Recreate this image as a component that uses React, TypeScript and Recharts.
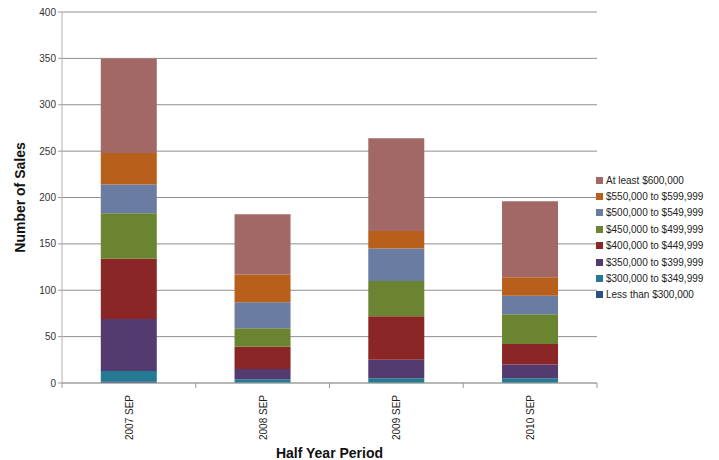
import { BarChart, Bar, XAxis, YAxis, CartesianGrid } from "recharts";

const periods = ["2007 SEP", "2008 SEP", "2009 SEP", "2010 SEP"];

// price bands, bottom of the stack first
const bands = [
  "Less than $300,000",
  "$300,000 to $349,999",
  "$350,000 to $399,999",
  "$400,000 to $449,999",
  "$450,000 to $499,999",
  "$500,000 to $549,999",
  "$550,000 to $599,999",
  "At least $600,000",
];

const lessThan300 = [2, 0, 0, 0];
const from300 = [11, 4, 5, 5];
const from350 = [56, 11, 20, 15];
const from400 = [65, 24, 47, 22];
const from450 = [49, 20, 38, 32];
const from500 = [31, 28, 35, 20];
const from550 = [34, 30, 19, 20];
const atLeast600 = [102, 65, 100, 82];

const bandValues = [lessThan300, from300, from350, from400, from450, from500, from550, atLeast600];

const colors = ["#2b5184", "#247a92", "#533b70", "#8a2626", "#6a8431", "#6a7ca1", "#b75f1b", "#a26865"];

const yTicks = [0, 50, 100, 150, 200, 250, 300, 350, 400];

const data = periods.map((p, i) => {
  const row: Record<string, string | number> = { period: p };
  bands.forEach((b, j) => {
    row["s" + j] = bandValues[j][i];
  });
  return row;
});

const font = "'Liberation Sans', Arial, sans-serif";

function PeriodTick(props: any) {
  const { x, y, payload, index } = props;
  const off = payload.offset || 0;
  return (
    <g>
      <line x1={x - off} x2={x - off} y1={y - 8} y2={y - 3} stroke="#9a9a9a" />
      {index === periods.length - 1 && (
        <line x1={x + off} x2={x + off} y1={y - 8} y2={y - 3} stroke="#9a9a9a" />
      )}
      <text
        x={0}
        y={0}
        transform={`translate(${x + 4},${y + 4}) rotate(-90)`}
        textAnchor="end"
        fontSize={10}
        fill="#222"
        fontFamily={font}
      >
        {payload.value}
      </text>
    </g>
  );
}

export default function App() {
  return (
    <div style={{ position: "absolute", left: 0, top: 0, width: 719, height: 460, background: "#fff" }}>
      <BarChart
        width={719}
        height={460}
        data={data}
        margin={{ top: 12, right: 122, bottom: 0, left: 0 }}
        barCategoryGap="29%"
      >
        <CartesianGrid vertical={false} stroke="#8f8f8f" strokeWidth={1} />
        <XAxis
          dataKey="period"
          height={77}
          axisLine={{ stroke: "#a8a8a8" }}
          tickLine={false}
          interval={0}
          tick={<PeriodTick />}
          label={{
            value: "Half Year Period",
            position: "insideBottom",
            offset: 2,
            fontSize: 14,
            fontWeight: "bold",
            fill: "#111",
            fontFamily: font,
          }}
        />
        <YAxis
          width={62}
          domain={[0, 400]}
          ticks={yTicks}
          interval={0}
          axisLine={{ stroke: "#b0b0b0" }}
          tickLine={{ stroke: "#9a9a9a" }}
          tickSize={4}
          tick={{ fontSize: 10, fill: "#333", fontFamily: font }}
          label={{
            value: "Number of Sales",
            angle: -90,
            position: "insideLeft",
            offset: 20,
            fontSize: 14,
            fontWeight: "bold",
            fill: "#111",
            fontFamily: font,
            style: { textAnchor: "middle" },
          }}
        />
        {bands.map((b, j) => (
          <Bar key={b} dataKey={"s" + j} name={b} stackId="a" fill={colors[j]} isAnimationActive={false} />
        ))}
      </BarChart>
      <div style={{ position: "absolute", left: 596, top: 172, fontFamily: font, fontSize: 10, color: "#222" }}>
        {bands
          .map((b, j) => ({ b, c: colors[j] }))
          .reverse()
          .map(({ b, c }) => (
            <div key={b} style={{ display: "flex", alignItems: "center", height: 16.4, whiteSpace: "nowrap" }}>
              <span style={{ display: "inline-block", width: 7, height: 7, background: c, marginRight: 3 }} />
              {b}
            </div>
          ))}
      </div>
    </div>
  );
}
